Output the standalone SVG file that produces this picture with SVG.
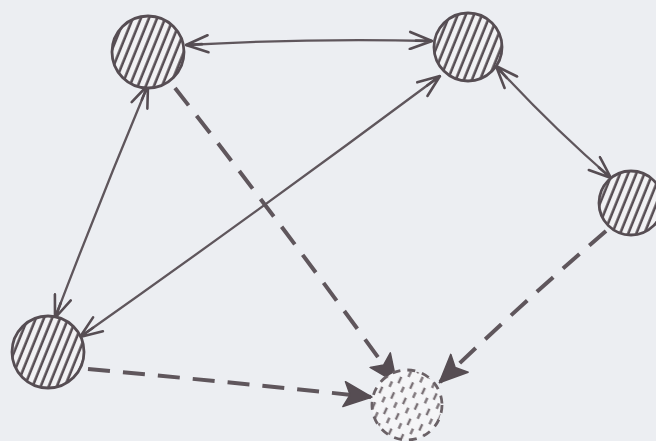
<svg xmlns="http://www.w3.org/2000/svg" width="656" height="441" viewBox="0 0 656 441">
<style>
.node{fill:url(#hatch);stroke:#564d53;stroke-width:2.8}
.ghost{fill:url(#hatchDash);stroke:#6a6166;stroke-width:2.8;stroke-dasharray:8 7}
.solid{fill:none;stroke:#5f565c;stroke-width:2.3;marker-start:url(#open);marker-end:url(#open)}
.dash{fill:none;stroke:#5f565c;stroke-width:4;stroke-dasharray:22 13;marker-end:url(#filled)}
</style>
<defs>
<pattern id="hatch" width="7.5" height="10" patternUnits="userSpaceOnUse" patternTransform="rotate(22)">
<rect width="7.5" height="10" fill="#f2f2f4"/>
<line x1="2.5" y1="0" x2="2.5" y2="10" stroke="#564d53" stroke-width="2.6"/>
</pattern>
<pattern id="hatchDash" width="13" height="17" patternUnits="userSpaceOnUse" patternTransform="rotate(25)">
<rect width="13" height="17" fill="#f5f5f7"/>
<line x1="3" y1="2" x2="3" y2="9" stroke="#7a7176" stroke-width="2.4"/>
<line x1="9.5" y1="10" x2="9.5" y2="16" stroke="#7a7176" stroke-width="2.4"/>
</pattern>
<marker id="open" viewBox="0 0 26 20" refX="25" refY="10" markerWidth="26" markerHeight="20" markerUnits="userSpaceOnUse" orient="auto-start-reverse">
<path d="M3 1.5 L25 10 L3 18.5 M25 10 L9 10" fill="none" stroke="#564d53" stroke-width="2.6" stroke-linecap="round" stroke-linejoin="round"/>
</marker>
<marker id="filled" viewBox="0 0 30 28" refX="28" refY="14" markerWidth="30" markerHeight="28" markerUnits="userSpaceOnUse" orient="auto">
<path d="M1 1.5 L29 14 L1 26.5 L7 14 Z" fill="#564d53" stroke="#564d53" stroke-width="1.5" stroke-linejoin="round"/>
</marker>
</defs>
<rect width="656" height="441" fill="#eceef2"/>
<g id="connectors">
<path class="solid" d="M186 45 Q310 38 432 41"/>
<path class="solid" d="M148 85 Q100 200 55 318"/>
<path class="solid" d="M440 76 Q260 210 80 337"/>
<path class="solid" d="M496 66 Q550 125 611 178"/>
<path class="dash" d="M175 88 Q290 235 396 382"/>
<path class="dash" d="M606 231 Q520 305 440 382"/>
<path class="dash" d="M88 369 Q230 382 371 397"/>
</g>
<g id="node-a"><circle class="node" cx="148" cy="52" r="36"/></g>
<g id="node-b"><circle class="node" cx="468" cy="47" r="34"/></g>
<g id="node-c"><circle class="node" cx="631" cy="203" r="32"/></g>
<g id="node-d"><circle class="node" cx="48" cy="352" r="36"/></g>
<g id="node-e"><circle class="ghost" cx="407" cy="405" r="35"/></g>
</svg>
